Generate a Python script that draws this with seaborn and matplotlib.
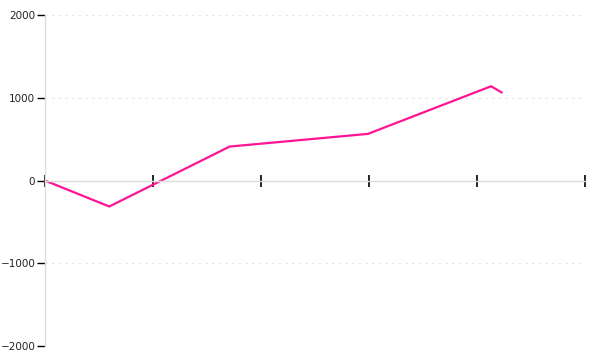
import matplotlib
matplotlib.use("Agg")
import matplotlib.pyplot as plt
import seaborn as sns
import pandas as pd

x_vals = [0.0, 0.595, 1.71, 2.99, 4.13, 4.23]
y_vals = [0, -314, 411, 564, 1140, 1064]
y_ticks = [-2000, -1000, 0, 1000, 2000]
x_ticks = [0, 1, 2, 3, 4, 5]

sns.set_theme(style="white")
plt.rcParams['font.family'] = ['DejaVu Sans']

df = pd.DataFrame({"x": x_vals, "y": y_vals})

fig = plt.figure(figsize=(6, 3.6), dpi=100)
ax = fig.add_axes([0.075, 0.039, 0.9, 0.919])
sns.lineplot(data=df, x="x", y="y", ax=ax, color="#ff1493", linewidth=1.6, sort=False)

ax.set_xlim(0, 5)
ax.set_ylim(-2000, 2000)
ax.set_xticks(x_ticks)
ax.set_xticklabels([])
ax.set_yticks(y_ticks)
ax.set_yticklabels([str(v).replace("-", "\u2212") for v in y_ticks])
ax.set_xlabel("")
ax.set_ylabel("")

for v in y_ticks:
    if v != 0:
        ax.axhline(v, color="#e4e4e4", linestyle=(0, (2, 4)), linewidth=0.8, zorder=0)

for s in ["top", "right"]:
    ax.spines[s].set_visible(False)
ax.spines["left"].set_color("#dddddd")
ax.spines["left"].set_linewidth(1.0)
ax.spines["bottom"].set_position(("data", 0))
ax.spines["bottom"].set_color("#dddddd")
ax.spines["bottom"].set_linewidth(1.0)

ax.tick_params(axis="x", direction="inout", length=9, width=1.2, color="black", bottom=True)
ax.tick_params(axis="y", direction="out", length=6, width=1.0, color="black", left=True,
               labelsize=7.5, labelcolor="#222222", pad=1)

fig.savefig("out.png", dpi=100, facecolor="white")
